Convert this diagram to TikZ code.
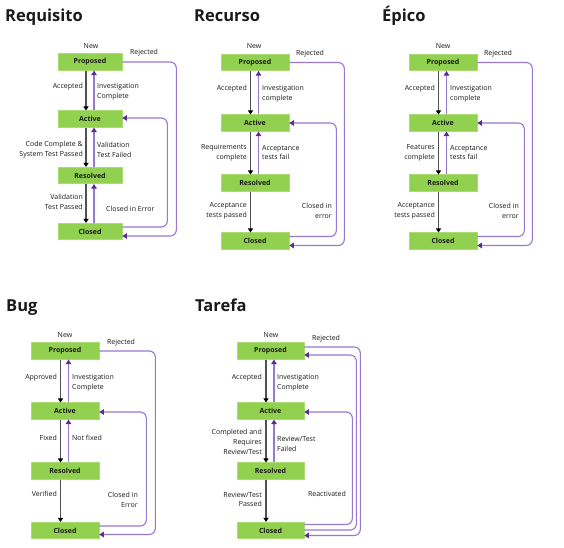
\documentclass[tikz,border=0pt]{standalone}
\usepackage{fontspec}
\setmainfont{Open Sans}
\setsansfont{Open Sans}
\usetikzlibrary{arrows.meta}
\definecolor{boxgreen}{HTML}{92D050}
\definecolor{boxedge}{HTML}{A9DC72}
\definecolor{fwdgray}{HTML}{505050}
\definecolor{purp}{HTML}{9878D0}
\definecolor{purpdark}{HTML}{5C2D91}
\definecolor{txt}{HTML}{1A1A1A}
\tikzset{
  st/.style={fill=boxgreen, draw=boxedge, line width=0.6pt, minimum width=68pt, minimum height=16.5pt, inner sep=0pt, text=txt, font=\bfseries\fontsize{7}{8}\selectfont},
  lbl/.style={inner sep=0pt, text=txt, font=\fontsize{7}{9.8}\selectfont},
  ttl/.style={inner sep=0pt, anchor=base west, text=txt, font=\bfseries\fontsize{16.5}{18}\selectfont},
  fwd/.style={draw=fwdgray, line width=1.2pt, -{Triangle[length=4pt,width=5pt,color=black]}},
  back/.style={draw=purp, line width=1.1pt, rounded corners=6pt, -{Triangle[length=4.5pt,width=5.5pt,color=purpdark]}},
}
\begin{document}
\begin{tikzpicture}[x=1pt,y=-1pt]
\useasboundingbox[fill=white] (0,0) rectangle (564,547);

% ---------- Requisito ----------
\node[ttl] (t1) at (5,21) {Requisito};
\node[st, minimum width=64pt] (rp) at (90,62) {Proposed};
\node[st, minimum width=64pt] (ra) at (90,119) {Active};
\node[st, minimum width=64pt] (rr) at (90,175.5) {Resolved};
\node[st, minimum width=64pt] (rc) at (90,231.5) {Closed};
\draw[fwd] ([xshift=-4pt]rp.south) -- ([xshift=-4pt]ra.north);
\draw[back] ([xshift=4pt]ra.north) -- ([xshift=4pt]rp.south);
\draw[fwd] ([xshift=-4pt]ra.south) -- ([xshift=-4pt]rr.north);
\draw[back] ([xshift=4pt]rr.north) -- ([xshift=4pt]ra.south);
\draw[fwd] ([xshift=-4pt]rr.south) -- ([xshift=-4pt]rc.north);
\draw[back] ([xshift=4pt]rc.north) -- ([xshift=4pt]rr.south);
\draw[back] (rp.east) -- ++(54,0) |- ([yshift=-4.5pt]rc.east);
\draw[back] ([yshift=4.5pt]rc.east) -- ++(45,0) |- ([yshift=1pt]ra.east);
\node[lbl] (rnew) at (91,46) {New};
\node[lbl] (rrej) at (144,53) {Rejected};
\node[lbl, anchor=east] (racc) at (83,87) {Accepted};
\node[lbl, anchor=west, align=left] (rinv) at (97,92) {Investigation\\Complete};
\node[lbl, anchor=east, align=right] (rcc) at (83,150) {Code Complete \&\\System Test Passed};
\node[lbl, anchor=west, align=left] (rvf) at (97,150) {Validation\\Test Failed};
\node[lbl, anchor=east, align=right] (rvp) at (83,202) {Validation\\Test Passed};
\node[lbl, anchor=west] (rcie) at (106,209) {Closed in Error};

% ---------- Recurso ----------
\node[ttl] (t2) at (194,21) {Recurso};
\node[st] (fp) at (255,62.5) {Proposed};
\node[st] (fa) at (255,123) {Active};
\node[st] (fr) at (255,183) {Resolved};
\node[st] (fc) at (255,241) {Closed};
\draw[fwd] ([xshift=-4.5pt]fp.south) -- ([xshift=-4.5pt]fa.north);
\draw[back] ([xshift=3.5pt]fa.north) -- ([xshift=3.5pt]fp.south);
\draw[fwd] ([xshift=-4.5pt]fa.south) -- ([xshift=-4.5pt]fr.north);
\draw[back] ([xshift=3.5pt]fr.north) -- ([xshift=3.5pt]fa.south);
\draw[fwd] ([xshift=-4.5pt]fr.south) -- ([xshift=-4.5pt]fc.north);
\draw[back] (fp.east) -- ++(55,0) |- ([yshift=-4.5pt]fc.east);
\draw[back] ([yshift=4.5pt]fc.east) -- ++(47,0) |- (fa.east);
\node[lbl] (fnew) at (254,46) {New};
\node[lbl] (frej) at (310,54) {Rejected};
\node[lbl, anchor=east] (facc) at (247,89) {Accepted};
\node[lbl, anchor=west, align=left] (finv) at (262,94) {Investigation\\complete};
\node[lbl, anchor=east, align=right] (frc) at (247,152.5) {Requirements\\complete};
\node[lbl, anchor=west, align=left] (fatf) at (262,152.5) {Acceptance\\tests fail};
\node[lbl, anchor=east, align=right] (fatp) at (247,210.5) {Acceptance\\tests passed};
\node[lbl, anchor=east, align=right] (fcie) at (332,210.5) {Closed in\\error};

% ---------- Epico ----------
\node[ttl] (t3) at (382,21) {Épico};
\node[st] (ep) at (443,62.5) {Proposed};
\node[st] (ea) at (443,123) {Active};
\node[st] (er) at (443,183) {Resolved};
\node[st] (ec) at (443,241) {Closed};
\draw[fwd] ([xshift=-4.5pt]ep.south) -- ([xshift=-4.5pt]ea.north);
\draw[back] ([xshift=3.5pt]ea.north) -- ([xshift=3.5pt]ep.south);
\draw[fwd] ([xshift=-4.5pt]ea.south) -- ([xshift=-4.5pt]er.north);
\draw[back] ([xshift=3.5pt]er.north) -- ([xshift=3.5pt]ea.south);
\draw[fwd] ([xshift=-4.5pt]er.south) -- ([xshift=-4.5pt]ec.north);
\draw[back] (ep.east) -- ++(55,0) |- ([yshift=-4.5pt]ec.east);
\draw[back] ([yshift=4.5pt]ec.east) -- ++(47,0) |- (ea.east);
\node[lbl] (enew) at (443,46) {New};
\node[lbl] (erej) at (498,54) {Rejected};
\node[lbl, anchor=east] (eacc) at (435,89) {Accepted};
\node[lbl, anchor=west, align=left] (einv) at (450,94) {Investigation\\complete};
\node[lbl, anchor=east, align=right] (efc) at (435,152.5) {Features\\complete};
\node[lbl, anchor=west, align=left] (eatf) at (450,152.5) {Acceptance\\tests fail};
\node[lbl, anchor=east, align=right] (eatp) at (435,210.5) {Acceptance\\tests passed};
\node[lbl, anchor=east, align=right] (ecie) at (519,210.5) {Closed in\\error};

% ---------- Bug ----------
\node[ttl] (t4) at (6,311) {Bug};
\node[st] (bp) at (65,351) {Proposed};
\node[st] (ba) at (65,411) {Active};
\node[st] (br) at (65,471) {Resolved};
\node[st] (bc) at (65,530.5) {Closed};
\draw[fwd] ([xshift=-4.5pt]bp.south) -- ([xshift=-4.5pt]ba.north);
\draw[back] ([xshift=3.5pt]ba.north) -- ([xshift=3.5pt]bp.south);
\draw[fwd] ([xshift=-4.5pt]ba.south) -- ([xshift=-4.5pt]br.north);
\draw[back] ([xshift=3.5pt]br.north) -- ([xshift=3.5pt]ba.south);
\draw[fwd] ([xshift=-4.5pt]br.south) -- ([xshift=-4.5pt]bc.north);
\draw[back] (bp.east) -- ++(56,0) |- ([yshift=-4pt]bc.east);
\draw[back] ([yshift=4.5pt]bc.east) -- ++(47,0) |- ([yshift=-1pt]ba.east);
\node[lbl] (bnew) at (65,335) {New};
\node[lbl] (brej) at (121,343) {Rejected};
\node[lbl, anchor=east] (bapp) at (57,378) {Approved};
\node[lbl, anchor=west, align=left] (binv) at (72,383) {Investigation\\Complete};
\node[lbl, anchor=east] (bfix) at (57,438) {Fixed};
\node[lbl, anchor=west] (bnf) at (72,438) {Not fixed};
\node[lbl, anchor=east] (bver) at (57,494) {Verified};
\node[lbl, anchor=east, align=right] (bcie) at (138,499.5) {Closed in\\Error};

% ---------- Tarefa ----------
\node[ttl] (t5) at (195,311) {Tarefa};
\node[st, minimum width=67pt] (tp) at (270.5,351) {Proposed};
\node[st, minimum width=67pt] (ta) at (270.5,411) {Active};
\node[st, minimum width=67pt] (tr) at (270.5,471) {Resolved};
\node[st, minimum width=67pt] (tc) at (270.5,530.5) {Closed};
\draw[fwd] ([xshift=-4.5pt]tp.south) -- ([xshift=-4.5pt]ta.north);
\draw[back] ([xshift=3.5pt]ta.north) -- ([xshift=3.5pt]tp.south);
\draw[fwd] ([xshift=-4.5pt]ta.south) -- ([xshift=-4.5pt]tr.north);
\draw[back] ([xshift=3.5pt]tr.north) -- ([xshift=3.5pt]ta.south);
\draw[fwd] ([xshift=-4.5pt]tr.south) -- ([xshift=-4.5pt]tc.north);
\draw[back] ([yshift=4pt]tp.east) -- ++(56,0) |- ([yshift=-5pt]tc.east);
\draw[back] ([yshift=0.5pt]tc.east) -- ++(52,0) |- ([yshift=-4pt]tp.east);
\draw[back] ([yshift=6pt]tc.east) -- ++(48,0) |- ([yshift=-1pt]ta.east);
\node[lbl] (tnew) at (271,335) {New};
\node[lbl] (trej) at (326,339) {Rejected};
\node[lbl, anchor=east] (tacc) at (262,378) {Accepted};
\node[lbl, anchor=west, align=left] (tinv) at (277,383) {Investigation\\Complete};
\node[lbl, anchor=east, align=right] (tcr) at (262,442) {Completed and\\Requires\\Review/Test};
\node[lbl, anchor=west, align=left] (trtf) at (277,444) {Review/Test\\Failed};
\node[lbl, anchor=east, align=right] (trtp) at (262,499.5) {Review/Test\\Passed};
\node[lbl] (treact) at (327,494) {Reactivated};
\end{tikzpicture}
\end{document}
